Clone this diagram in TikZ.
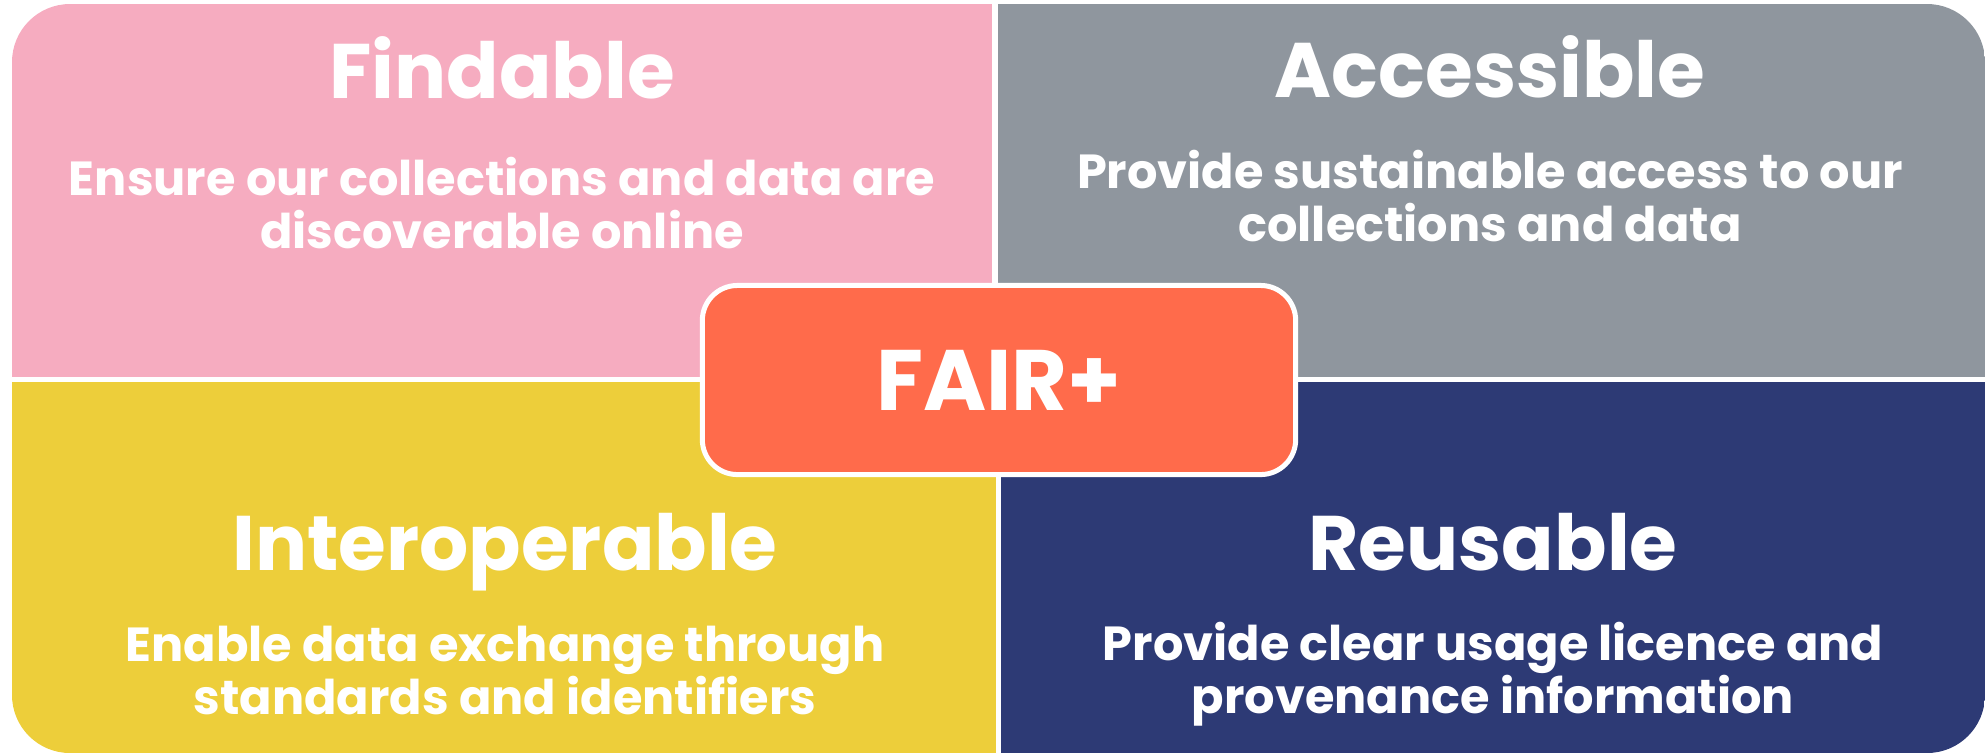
\documentclass[tikz,border=0pt]{standalone}
\usepackage{fontspec}
\setmainfont{Poppins}
\usetikzlibrary{positioning}
\definecolor{FairPink}{HTML}{F6ACC0}
\definecolor{FairGrey}{HTML}{8F969E}
\definecolor{FairYellow}{HTML}{EDCE3A}
\definecolor{FairNavy}{HTML}{2D3A75}
\definecolor{FairOrange}{HTML}{FF6B4B}

\tikzset{
  heading/.style={white, anchor=base, font=\fontsize{22}{26}\selectfont\bfseries},
  blurb/.style={white, anchor=base, align=center, font=\fontsize{13.6}{14.9}\selectfont\bfseries},
}

\begin{document}
\begin{tikzpicture}[x=0.01cm, y=-0.01cm]
    \useasboundingbox (0,0) rectangle (1985,753);
    % four quarters, only the outer corners rounded
    \begin{scope}
      \clip[rounded corners=0.58cm] (12,4) rectangle (1985,753);
      \fill[FairPink] (12,4) rectangle (992,377);
      \fill[FairGrey] (998,4) rectangle (1985,377);
      \fill[FairYellow] (12,382) rectangle (996,753);
      \fill[FairNavy] (1001,382) rectangle (1985,753);
    \end{scope}
    % base anchor sits on the last line
    \node[heading] (findable) at (502,98) {Findable};
    \node[blurb] (findtext) at (502,248) {Ensure our collections and data are\\ discoverable online};
    \node[heading] (accessible) at (1490,97) {Accessible};
    \node[blurb] (accesstext) at (1490,241) {Provide sustainable access to our\\ collections and data};
    \node[heading] (interop) at (505,570) {Interoperable};
    \node[blurb] (interoptext) at (505,714) {Enable data exchange through\\ standards and identifiers};
    \node[heading] (reusable) at (1493,570) {Reusable};
    \node[blurb] (reusetext) at (1493,713) {Provide clear usage licence and\\ provenance information};
    % centre badge
    \node[fill=FairOrange, draw=white, line width=0.05cm, rounded corners=0.35cm,
      minimum width=5.93cm, minimum height=1.89cm, text=white,
      font=\fontsize{24.4}{28}\selectfont\bfseries] (fair) at (999,380) {FAIR+};
\end{tikzpicture}
\end{document}
